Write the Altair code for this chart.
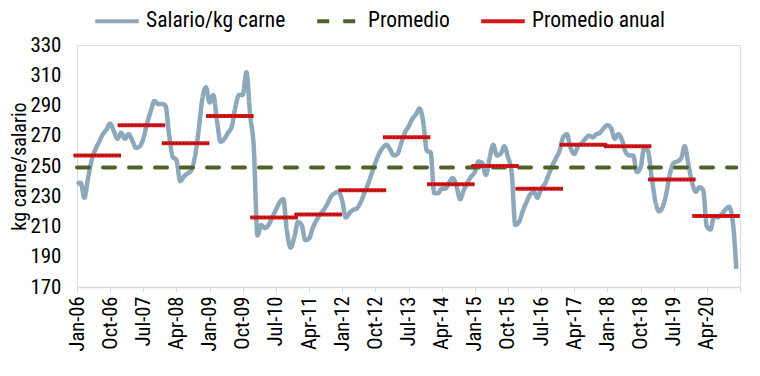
import altair as alt
import pandas as pd

# Monthly series Jan-2006 .. Dec-2020
salario = [
    238, 239, 229, 242, 254, 261, 266, 271, 274, 278, 273, 268,   # 2006
    272, 268, 271, 267, 262, 263, 268, 278, 286, 293, 291, 291,   # 2007
    290, 271, 256, 254, 240, 243, 245, 247, 256, 273, 294, 302,   # 2008
    292, 297, 280, 266, 268, 272, 276, 289, 297, 297, 312, 284,   # 2009
    262, 204, 211, 209, 211, 216, 221, 226, 228, 207, 196, 203,   # 2010
    213, 211, 201, 202, 209, 214, 218, 221, 225, 230, 232, 233,   # 2011
    227, 216, 219, 221, 222, 226, 232, 238, 245, 252, 258, 262,   # 2012
    264, 261, 257, 258, 265, 272, 276, 281, 284, 288, 279, 260,   # 2013
    259, 232, 232, 235, 235, 239, 242, 237, 228, 234, 239, 243,   # 2014
    246, 253, 252, 244, 255, 264, 257, 258, 263, 256, 246, 211,   # 2015
    213, 220, 226, 231, 233, 229, 235, 238, 244, 250, 255, 260,   # 2016
    269, 271, 262, 258, 263, 265, 268, 270, 269, 271, 272, 275,   # 2017
    277, 275, 268, 271, 267, 259, 257, 257, 246, 249, 262, 260,   # 2018
    243, 227, 220, 223, 232, 245, 252, 253, 255, 263, 251, 239,   # 2019
    233, 236, 234, 210, 208, 217, 216, 218, 221, 223, 214, 182,   # 2020
]
years = list(range(2006, 2021))
promedio_anual = [257, 277, 265, 283, 216, 218, 234, 269, 238, 250, 235, 264, 263, 241, 217]
promedio = 249

tick_labels = ['Jan-06', 'Oct-06', 'Jul-07', 'Apr-08', 'Jan-09', 'Oct-09', 'Jul-10',
               'Apr-11', 'Jan-12', 'Oct-12', 'Jul-13', 'Apr-14', 'Jan-15', 'Oct-15',
               'Jul-16', 'Apr-17', 'Jan-18', 'Oct-18', 'Jul-19', 'Apr-20', '']
y_ticks = list(range(170, 331, 20))

series_names = ['Salario/kg carne', 'Promedio', 'Promedio anual']
series_colors = ['#8EA8BB', '#4F6228', '#D7191C']

FONT = 'Roboto Condensed, Liberation Sans Narrow, DejaVu Sans Condensed, Roboto'

df_line = pd.DataFrame({'mes': list(range(len(salario))), 'valor': salario,
                        'serie': series_names[0]})
df_prom = pd.DataFrame({'mes': [0], 'x1': [len(salario) - 1], 'valor': [promedio],
                        'serie': [series_names[1]]})
df_anual = pd.DataFrame({
    'mes': [(y - 2006) * 12 - 0.95 for y in years],
    'x1': [(y - 2006) * 12 + 11.95 for y in years],
    'valor': promedio_anual,
    'serie': series_names[2],
})

label_arr = '[' + ','.join("'" + l + "'" for l in tick_labels) + ']'

x_scale = alt.Scale(domain=[0, 180], nice=False, zero=False)
y_scale = alt.Scale(domain=[170, 330], nice=False, zero=False)


def make_legend():
    return alt.Legend(title=None, orient='none', legendX=16, legendY=-48,
                      direction='horizontal', symbolType='stroke',
                      symbolStrokeWidth=4, symbolSize=1900,
                      labelFontSize=21.5, labelFont=FONT, labelColor='#000',
                      labelOffset=5, columnPadding=23, padding=0)


def x_axis():
    return alt.Axis(values=list(range(0, 181, 9)),
                    labelExpr=label_arr + '[round(datum.value/9)]',
                    labelAngle=-90, labelAlign='right', labelBaseline='middle',
                    labelFontSize=20.5, labelFont=FONT, labelColor='#000', labelPadding=4,
                    labelOverlap=False, labelFlush=False,
                    tickSize=5, tickColor='#D9D9D9', domainColor='#D9D9D9', domainWidth=1.5,
                    grid=False, title=None)


def y_axis():
    return alt.Axis(values=y_ticks, labelFontSize=21, labelFont=FONT, labelColor='#000',
                    labelPadding=16, labelOverlap=False, labelFlush=False,
                    ticks=False, domain=False, grid=False,
                    title='kg carne/salario', titleFontSize=20, titleFont=FONT,
                    titleFontWeight='normal', titleColor='#000', titlePadding=0)


color_enc = alt.Color('serie:N', scale=alt.Scale(domain=series_names, range=series_colors),
                      legend=make_legend())
dash_enc = alt.StrokeDash('serie:N', scale=alt.Scale(domain=series_names,
                                                      range=[[1, 0], [12, 14], [1, 0]]),
                          legend=make_legend())

X = alt.X('mes:Q', scale=x_scale, axis=x_axis())
Y = alt.Y('valor:Q', scale=y_scale, axis=y_axis())

line = alt.Chart(df_line).mark_line(interpolate='monotone', strokeWidth=4.5).encode(
    x=X, y=Y, color=color_enc, strokeDash=dash_enc,
)

prom = alt.Chart(df_prom).mark_rule(strokeWidth=4, strokeCap='round').encode(
    x=X, x2='x1:Q', y=Y, color=color_enc, strokeDash=dash_enc,
)

anual = alt.Chart(df_anual).mark_rule(strokeWidth=4).encode(
    x=X, x2='x1:Q', y=Y, color=color_enc, strokeDash=dash_enc,
)

anual_dots = alt.Chart(df_anual).mark_rule(strokeWidth=1.2, strokeDash=[1.5, 2],
                                           color='#7A0A0A').encode(
    x=X, x2='x1:Q', y=Y,
)

chart = alt.layer(line, prom, anual, anual_dots).properties(
    width=663, height=242,
    autosize=alt.AutoSizeParams(type='none'),
    padding={'left': 69, 'top': 37, 'right': 12, 'bottom': 81},
).configure_view(stroke=None).configure(font=FONT)

chart.save('out.html', embed_options={'renderer': 'svg', 'actions': False})
